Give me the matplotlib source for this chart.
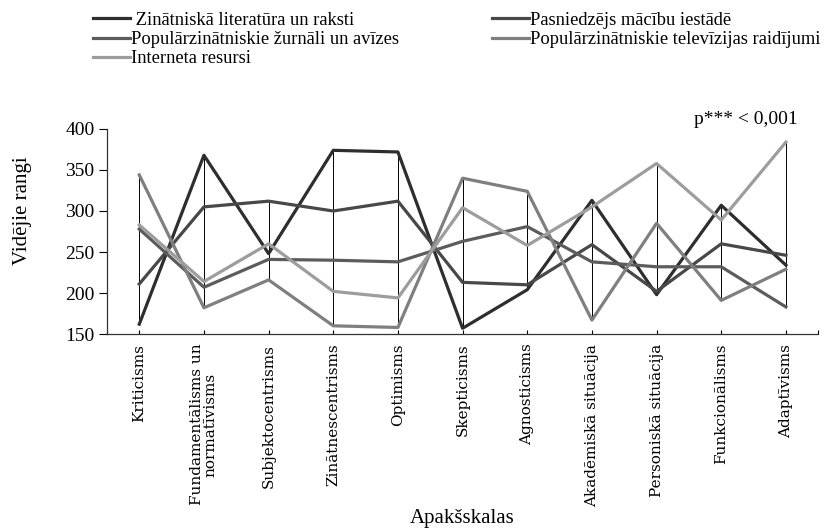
import numpy as np
import matplotlib
matplotlib.use('Agg')
import matplotlib.pyplot as plt

plt.rcParams['font.family'] = ['Liberation Serif', 'DejaVu Serif']

# Subscales (x categories)
categories = ['Kriticisms', 'Fundamentālisms un\nnormatīvisms', 'Subjektocentrisms',
              'Zinātnescentrisms', 'Optimisms', 'Skepticisms', 'Agnosticisms',
              'Akadēmiskā situācija', 'Personiskā situācija', 'Funkcionālisms',
              'Adaptīvisms']

# Mean ranks per information source
zinatniska = [162, 368, 248, 374, 372, 157, 204, 313, 198, 307, 234]
pasniedzejs = [211, 305, 312, 300, 312, 213, 210, 259, 202, 260, 246]
zurnali = [278, 207, 241, 240, 238, 263, 281, 238, 232, 232, 183]
televizija = [344, 182, 216, 160, 158, 340, 324, 167, 285, 191, 229]
internets = [283, 214, 260, 202, 194, 304, 258, 305, 358, 289, 384]

series_names = [' Zinātniskā literatūra un raksti', 'Pasniedzējs mācību iestādē',
                'Populārzinātniskie žurnāli un avīzes',
                'Populārzinātniskie televīzijas raidījumi', 'Interneta resursi']
colors = ['#2e2e2e', '#484848', '#5c5c5c', '#7f7f7f', '#9d9d9d']

fig = plt.figure(figsize=(8.29, 5.28), dpi=100)
ax = fig.add_axes([0.129, 0.3674, 0.858, 0.3883])

x = np.arange(len(categories)) + 0.5
data = np.array([zinatniska, pasniedzejs, zurnali, televizija, internets])

# high-low lines like in Excel
ax.vlines(x, data.min(axis=0), data.max(axis=0), color='black', lw=0.7, zorder=1)

handles = []
for vals, name, c in zip(data, series_names, colors):
    h, = ax.plot(x, vals, color=c, lw=2.3, label=name, zorder=2)
    handles.append(h)

ax.set_xlim(0, len(categories))
ax.set_ylim(150, 400)
ax.set_yticks([150, 200, 250, 300, 350, 400])
ax.tick_params(axis='y', direction='out', length=6, width=0.8, labelsize=14, pad=3)
ax.set_xticks(x)
ax.set_xticks([0, len(categories)], minor=True)
ax.set_xticklabels(categories, rotation=90, family='DejaVu Serif', fontsize=11,
                   va='top', ha='center', linespacing=1.0)
ax.tick_params(axis='x', which='both', direction='in', length=3, width=0.8, pad=7)
for s in ['top', 'right']:
    ax.spines[s].set_visible(False)
for s in ['left', 'bottom']:
    ax.spines[s].set_linewidth(0.9)
    ax.spines[s].set_color('#333333')

ax.set_ylabel('Vidējie rangi', fontsize=15)
ax.yaxis.set_label_coords(-0.106, 0.6)
ax.set_xlabel('Apakšskalas', fontsize=15)
ax.xaxis.set_label_coords(0.5, -0.855)

ax.text(0.971, 1.044, 'p*** < 0,001', transform=ax.transAxes, ha='right',
        va='center', fontsize=14)

order = [0, 2, 4, 1, 3]
fig.legend([handles[i] for i in order], [series_names[i] for i in order],
           ncol=2, loc='upper left', bbox_to_anchor=(0.0985, 0.999), frameon=False,
           fontsize=13.3, handlelength=2.0, handletextpad=0.05,
           columnspacing=5.05, labelspacing=0.13, borderaxespad=0.2)

fig.savefig('out.png', dpi=100)
